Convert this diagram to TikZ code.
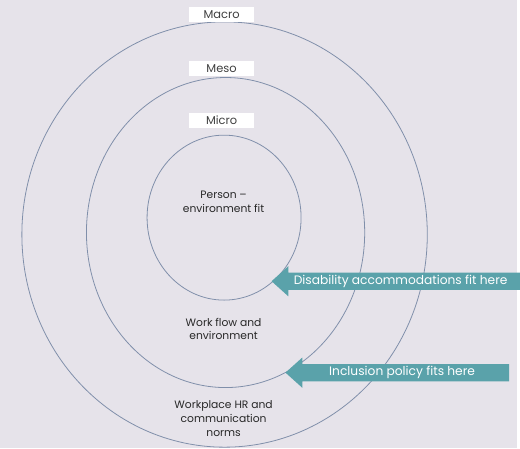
\documentclass[tikz,border=0pt]{standalone}
\usepackage{fontspec}
\setmainfont{Poppins}
\usetikzlibrary{shapes.geometric,shapes.arrows}
\definecolor{bgcol}{RGB}{230,227,234}
\definecolor{ringcol}{RGB}{128,143,170}
\definecolor{tealcol}{RGB}{90,162,170}
\definecolor{inkcol}{RGB}{40,40,40}
\begin{document}
\begin{tikzpicture}[x=1pt,y=-1pt]
    \tikzstyle{every node}=[font=\fontsize{10.8}{14}\selectfont, text=inkcol]
    \tikzstyle{ring}=[ellipse, draw=ringcol, line width=0.8pt, inner sep=0pt]
    \tikzstyle{tag}=[fill=white, font=\fontsize{11.5}{13}\selectfont, text=black!75,
        minimum width=66pt, minimum height=15pt, inner sep=0pt]
    \tikzstyle{zone}=[align=center, inner sep=0pt]
    \tikzstyle{callout}=[single arrow, shape border rotate=180, fill=tealcol,
        text=white, font=\fontsize{12.3}{13}\selectfont, text height=8pt, text depth=1.5pt,
        inner ysep=3.75pt, inner xsep=2pt, minimum width=30pt, single arrow head extend=6.5pt,
        single arrow tip angle=84]

    % Background
    \fill[bgcol] (0,0) rectangle (520,451);

    % Draw the three rings
    \foreach \name/\x/\y/\w/\h in {outer/226/236/408/428, middle/227/234/280/312, inner/225.5/219/155/166}
        \node[ring, minimum width=\w pt, minimum height=\h pt] (\name) at (\x,\y) {};

    % Level tags above the rings
    \foreach \name/\y/\txt in {macro/14.5/Macro, meso/69/Meso, micro/121/Micro}
        \node[tag] (\name) at (223,\y) {\txt};

    % Text inside each ring
    \node[zone] (fit) at (225,203) {Person --\\environment fit};
    \node[zone] (flow) at (225,331) {Work flow and\\environment};
    \node[zone] (norms) at (225,421) {Workplace HR and\\communication\\norms};

    % Callouts
    \node[callout, minimum height=250pt, anchor=west] (disab) at (273,283) {Disability accommodations fit here};
    \node[callout, minimum height=225pt, anchor=west] (incl) at (287,375) {Inclusion policy fits here};
\end{tikzpicture}
\end{document}
